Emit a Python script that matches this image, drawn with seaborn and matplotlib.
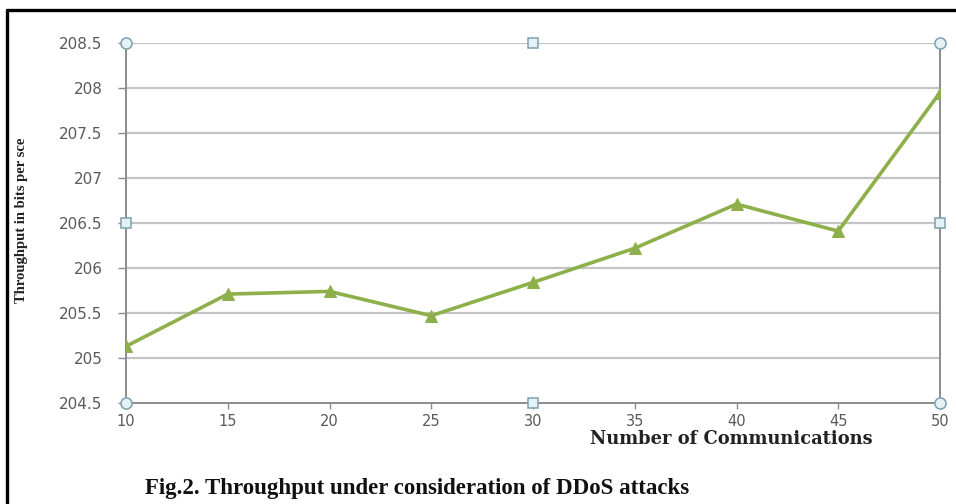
import matplotlib
matplotlib.use("Agg")
import matplotlib.pyplot as plt
from matplotlib.lines import Line2D
import seaborn as sns
import pandas as pd

communications = [10, 15, 20, 25, 30, 35, 40, 45, 50]
throughput = [205.13, 205.71, 205.74, 205.47, 205.84, 206.22, 206.71, 206.41, 207.95]
y_ticks = [204.5, 205, 205.5, 206, 206.5, 207, 207.5, 208, 208.5]
x_ticks = [10, 15, 20, 25, 30, 35, 40, 45, 50]

df = pd.DataFrame({"Communications": communications, "Throughput": throughput})

sns.set_theme(style="white")
plt.rcParams["font.family"] = ["DejaVu Sans"]

W, H = 956, 504
fig = plt.figure(figsize=(W / 100, H / 100), dpi=100)
ax = fig.add_axes([126 / W, 1 - 403 / H, (940 - 126) / W, (403 - 43) / H])

grid_c = "#c4c4c4"
axis_c = "#8c8c8c"
label_c = "#5a5a5a"

for yv in y_ticks[1:]:
    ax.axhline(yv, color=grid_c, lw=1.6, zorder=1)

sns.lineplot(data=df, x="Communications", y="Throughput", ax=ax,
             color="#8db04a", lw=2.6, marker="^", markersize=9,
             markeredgecolor="#8db04a", zorder=3)

ax.set_xlim(10, 50)
ax.set_ylim(204.5, 208.5)
ax.set_xticks(x_ticks)
ax.set_yticks(y_ticks)
ax.set_xticklabels([str(v) for v in x_ticks])
ax.set_yticklabels([f"{v:g}" for v in y_ticks])

ax.spines["top"].set_visible(False)
for side in ["left", "bottom", "right"]:
    ax.spines[side].set_visible(True)
    ax.spines[side].set_color(axis_c)
    ax.spines[side].set_linewidth(1.4)

ax.tick_params(axis="both", which="major", direction="out",
               width=1, color=axis_c, labelcolor=label_c, labelsize=11,
               bottom=True, left=True)
ax.tick_params(axis="x", length=4, pad=4, labelsize=10.5)
ax.tick_params(axis="y", length=6, pad=11)

ax.set_xlabel("Number of Communications", family="DejaVu Serif",
              fontweight="bold", fontsize=12.9, color="#222222")
ax.xaxis.set_label_coords((731 - 126) / (940 - 126), -(430 - 403) / (403 - 43))
ax.set_ylabel("Throughput in bits per sce", family="Liberation Serif",
              fontweight="bold", fontsize=10.5, color="#222222")
ax.yaxis.set_label_coords(-(126 - 28) / (940 - 126), (403 - 220) / (403 - 43))

# selection handles around the plot area
handle_kw = dict(transform=ax.transAxes, clip_on=False, ls="none",
                 markerfacecolor="#e4f1f5", markeredgecolor="#7f9fae",
                 markeredgewidth=1.1, zorder=5)
for xa, ya in [(0, 0), (1, 0), (0, 1), (1, 1)]:
    ax.plot([xa], [ya], marker="o", markersize=8, **handle_kw)
for xa, ya in [(0.5, 0), (0.5, 1), (0, 0.5), (1, 0.5)]:
    ax.plot([xa], [ya], marker="s", markersize=7, **handle_kw)

# page frame
fig.add_artist(Line2D([7 / W, 7 / W], [0, 1 - 10 / H], color="black", lw=2.4))
fig.add_artist(Line2D([7 / W, 1], [1 - 10 / H, 1 - 10 / H], color="black", lw=2.4))

fig.text(145 / W, 1 - 478 / H, "Fig.2. Throughput under consideration of DDoS attacks",
         family="Liberation Serif", fontweight="bold", fontsize=16.5,
         color="#111111", ha="left", va="top")

fig.savefig("out.png", dpi=100)
